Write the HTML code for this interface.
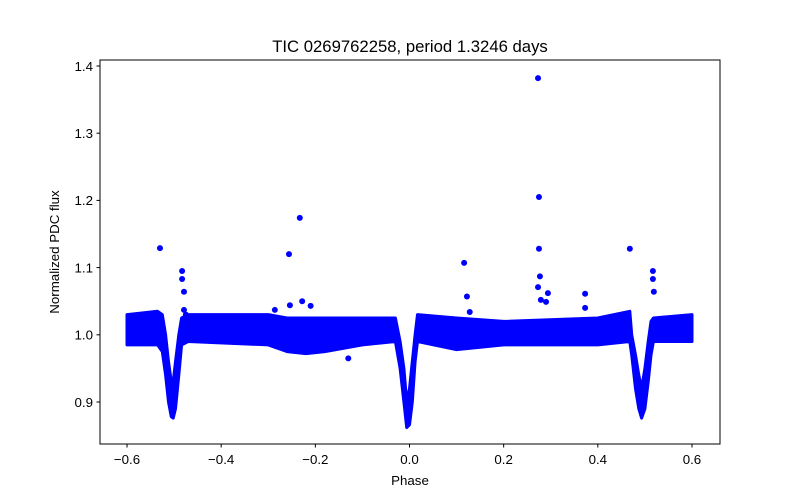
<!DOCTYPE html>
<html><head><meta charset="utf-8"><style>
body{margin:0;background:#fff}
svg{display:block;font-family:"Liberation Sans","DejaVu Sans",sans-serif}
</style></head><body>
<svg id="chart" width="800" height="500">
<rect width="800" height="500" fill="#fff"/>
<g id="marks"></g>
<rect x="100" y="60" width="620" height="384" fill="none" stroke="#000" stroke-width="1"/>
<g id="axes"></g>
<text x="410" y="52" text-anchor="middle" font-size="16.7">TIC 0269762258, period 1.3246 days</text>
<text x="410" y="485" text-anchor="middle" font-size="13.3">Phase</text>
<text transform="translate(59,252) rotate(-90)" text-anchor="middle" font-size="13.3">Normalized PDC flux</text>
</svg>
<script>
const envPhase=[-0.6,-0.535,-0.525,-0.518,-0.512,-0.506,-0.502,-0.497,-0.49,-0.484,-0.47,-0.3,-0.26,-0.22,-0.18,-0.1,-0.03,-0.02,-0.012,-0.006,0.0,0.006,0.012,0.017,0.1,0.2,0.4,0.468,0.472,0.48,0.487,0.493,0.5,0.507,0.513,0.518,0.6];
const envUpper=[1.03,1.035,1.03,1.0,0.96,0.93,0.93,0.96,1.0,1.025,1.03,1.03,1.025,1.025,1.025,1.025,1.025,0.99,0.95,0.9,0.92,0.96,1.0,1.03,1.025,1.02,1.025,1.035,1.0,0.97,0.94,0.92,0.95,0.99,1.02,1.025,1.03];
const envLower=[0.985,0.985,0.975,0.94,0.9,0.878,0.876,0.89,0.94,0.985,0.99,0.985,0.975,0.972,0.975,0.985,0.99,0.95,0.9,0.862,0.866,0.9,0.96,0.99,0.978,0.985,0.985,0.99,0.97,0.92,0.89,0.876,0.89,0.93,0.97,0.99,0.99];
const outPhase=[-0.53,-0.483,-0.483,-0.479,-0.479,-0.475,-0.256,-0.233,-0.228,-0.254,-0.21,-0.286,0.116,0.122,0.128,0.273,0.275,0.275,0.277,0.273,0.279,0.29,0.294,0.373,0.373,0.468,0.517,0.517,0.519,-0.13];
const outFlux=[1.129,1.095,1.083,1.064,1.037,1.03,1.12,1.174,1.05,1.044,1.043,1.037,1.107,1.057,1.034,1.382,1.205,1.128,1.087,1.071,1.052,1.049,1.062,1.061,1.04,1.128,1.095,1.083,1.064,0.965];
const xTicks=[-0.6,-0.4,-0.2,0.0,0.2,0.4,0.6];
const xTickLabels=["−0.6","−0.4","−0.2","0.0","0.2","0.4","0.6"];
const yTicks=[0.9,1.0,1.1,1.2,1.3,1.4];
const yTickLabels=["0.9","1.0","1.1","1.2","1.3","1.4"];

const X=p=>409.5+p*470.8;
const Y=f=>334.8-(f-1)*672;
const NS="http://www.w3.org/2000/svg";
const marks=document.getElementById('marks'), axes=document.getElementById('axes');
function mk(t,a,parent){const e=document.createElementNS(NS,t);for(const k in a)e.setAttribute(k,a[k]);parent.appendChild(e);return e;}

let d="M"+envPhase.map((p,i)=>X(p).toFixed(1)+","+Y(envUpper[i]).toFixed(1)).join(" L");
for(let i=envPhase.length-1;i>=0;i--) d+=" L"+X(envPhase[i]).toFixed(1)+","+Y(envLower[i]).toFixed(1);
d+=" Z";
const band=mk('path',{d:d,fill:'#0000ff',stroke:'#0000ff','stroke-width':3,'stroke-linejoin':'round'},marks);



outPhase.forEach((p,i)=>{
  const c=mk('circle',{cx:X(p),cy:Y(outFlux[i]),r:3,fill:'#0000ff'},marks);
  
  
});

xTicks.forEach((t,i)=>{
  const x=X(t);
  const l=mk('line',{x1:x,x2:x,y1:444,y2:447.5,stroke:'#000'},axes);
  
  
  const tx=mk('text',{x:x,y:464,'text-anchor':'middle','font-size':13.3},axes);
  tx.textContent=xTickLabels[i];
  
  
});
yTicks.forEach((t,i)=>{
  const y=Y(t);
  const l=mk('line',{x1:96.5,x2:100,y1:y,y2:y,stroke:'#000'},axes);
  
  
  const tx=mk('text',{x:93,y:y+4.8,'text-anchor':'end','font-size':13.3},axes);
  tx.textContent=yTickLabels[i];
  
  
});
</script>
</body></html>
